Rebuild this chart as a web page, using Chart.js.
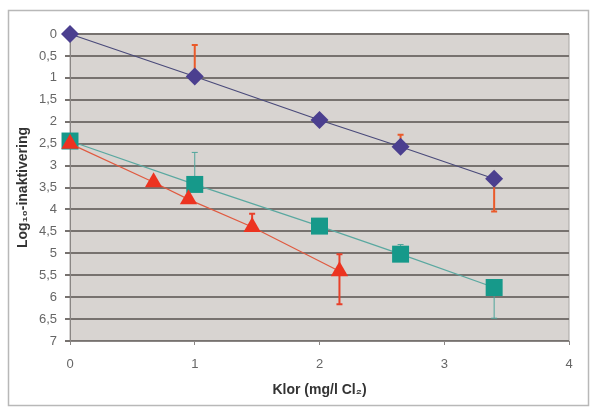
<!DOCTYPE html>
<html>
<head>
<meta charset="utf-8">
<script src="https://cdn.jsdelivr.net/npm/chart.js@4/dist/chart.umd.min.js"></script>
<style>
html,body{margin:0;padding:0;background:#fff;}
#wrap{width:592px;height:410px;position:relative;}
</style>
</head>
<body>
<div id="wrap"><canvas id="c" width="592" height="410"></canvas></div>
<script>
// Data
const xTicks = [0, 1, 2, 3, 4];
const yTickLabels = ['0','0,5','1','1,5','2','2,5','3','3,5','4','4,5','5','5,5','6','6,5','7'];

const diamondX = [0, 1, 2, 2.65, 3.4];
const diamondY = [0, 0.97, 1.96, 2.57, 3.3];
const diamondErrTop = [null, 0.25, null, 2.3, null];
const diamondErrBottom = [null, null, null, null, 4.05];

const squareX = [0, 1, 2, 2.65, 3.4];
const squareY = [2.44, 3.43, 4.38, 5.02, 5.78];
const squareErrTop = [null, 2.7, null, 4.8, null];
const squareErrBottom = [null, null, null, null, 6.48];

const triangleX = [0, 0.67, 0.95, 1.46, 2.16];
const triangleY = [2.5, 3.38, 3.77, 4.4, 5.41];
const triangleErrTop = [null, null, null, 4.1, 5.02];
const triangleErrBottom = [null, null, null, null, 6.16];

function pts(xs, ys){ return xs.map((x,i)=>({x:x, y:ys[i]})); }

const errorBars = {
  id:'errorBars',
  beforeDatasetsDraw(chart){
    const ctx = chart.ctx;
    const xs = chart.scales.x, ys = chart.scales.y;
    chart.data.datasets.forEach(ds=>{
      if(!ds.errTop) return;
      ctx.save();
      ctx.strokeStyle = ds.errColor;
      ctx.lineWidth = ds.errWidth;
      const draw = (i, end)=>{
        if(end===null || end===undefined) return;
        const p = ds.data[i];
        const px = xs.getPixelForValue(p.x);
        const py = ys.getPixelForValue(p.y);
        const pe = ys.getPixelForValue(end);
        ctx.beginPath();
        ctx.moveTo(px, py); ctx.lineTo(px, pe);
        ctx.moveTo(px-3, pe); ctx.lineTo(px+3, pe);
        ctx.stroke();
      };
      ds.data.forEach((p,i)=>{ draw(i, ds.errTop[i]); draw(i, ds.errBottom[i]); });
      ctx.restore();
    });
  }
};

const bgPlugin = {
  id:'bg',
  beforeDraw(chart){
    const ctx = chart.ctx, a = chart.chartArea;
    ctx.save();
    ctx.fillStyle = '#ffffff';
    ctx.fillRect(0,0,chart.width,chart.height);
    ctx.strokeStyle = '#b8b8b8';
    ctx.lineWidth = 1.5;
    ctx.strokeRect(8.5, 10.5, 580, 395);
    ctx.fillStyle = '#d8d4d1';
    ctx.fillRect(a.left, a.top, a.right-a.left, a.bottom-a.top);
    ctx.strokeStyle = '#a9a6a3';
    ctx.lineWidth = 1;
    ctx.strokeRect(a.left, a.top+0.5, a.right-a.left, a.bottom-a.top);
    ctx.restore();
  }
};

new Chart(document.getElementById('c'), {
  type: 'scatter',
  data: {
    datasets: [
      {
        data: pts(diamondX, diamondY), showLine:true, clip:false, order:2,
        borderColor:'#4a4a7a', borderWidth:1.2,
        backgroundColor:'#4b3f8f', pointBackgroundColor:'#4b3f8f', pointBorderColor:'#4b3f8f',
        pointStyle:'rectRot', pointRadius:9, pointBorderWidth:0,
        errTop: diamondErrTop, errBottom: diamondErrBottom, errColor:'#ea5a2a', errWidth:2
      },
      {
        data: pts(squareX, squareY), showLine:true, clip:false, order:1,
        borderColor:'#5aa8a0', borderWidth:1.2,
        backgroundColor:'#16998a', pointBackgroundColor:'#16998a', pointBorderColor:'#16998a',
        pointStyle:'rect', pointRadius:12, pointBorderWidth:0,
        errTop: squareErrTop, errBottom: squareErrBottom, errColor:'#4fa59b', errWidth:1
      },
      {
        data: pts(triangleX, triangleY), showLine:true, clip:false, order:0,
        borderColor:'#e05a40', borderWidth:1.2,
        backgroundColor:'#ec3320', pointBackgroundColor:'#ec3320', pointBorderColor:'#ec3320',
        pointStyle:'triangle', pointRadius:10, pointBorderWidth:0,
        errTop: triangleErrTop, errBottom: triangleErrBottom, errColor:'#e8402a', errWidth:2
      }
    ]
  },
  options: {
    responsive:false, animation:false,
    layout:{ padding:{ left:0, right:23, top:34, bottom:0 } },
    plugins:{ legend:{display:false}, tooltip:{enabled:false} },
    scales:{
      x:{
        type:'linear', min:0, max:4,
        afterBuildTicks(s){ s.ticks = xTicks.map(v=>({value:v})); },
        afterFit(s){ s.height = 69; },
        grid:{ display:true, drawOnChartArea:false, drawTicks:true, tickLength:4, color:'#8a8684', lineWidth:1 },
        border:{ display:true, color:'#8a8684', width:1 },
        ticks:{ color:'#666', font:{family:'Liberation Sans, Arial', size:13}, padding:12 },
        title:{ display:true, text:'Klor (mg/l Cl\u2082)', color:'#333', font:{family:'Liberation Sans, Arial', size:14, weight:'bold'}, padding:{top:0,bottom:11} }
      },
      y:{
        type:'linear', min:0, max:7, reverse:true,
        afterBuildTicks(s){ s.ticks = yTickLabels.map((t,i)=>({value:i*0.5})); },
        afterFit(s){ s.width = 70; },
        grid:{ color:'#77726f', lineWidth:2, tickLength:5, drawTicks:true },
        border:{ display:true, color:'#8a8684', width:1 },
        ticks:{ color:'#666', font:{family:'Liberation Sans, Arial', size:13}, padding:8,
          callback:(v,i)=>yTickLabels[i] },
        title:{ display:true, text:'Log\u2081\u2080-inaktivering', color:'#333', font:{family:'Liberation Sans, Arial', size:14, weight:'bold'}, padding:{top:15,bottom:0} }
      }
    }
  },
  plugins:[bgPlugin, errorBars]
});
</script>
</body>
</html>
